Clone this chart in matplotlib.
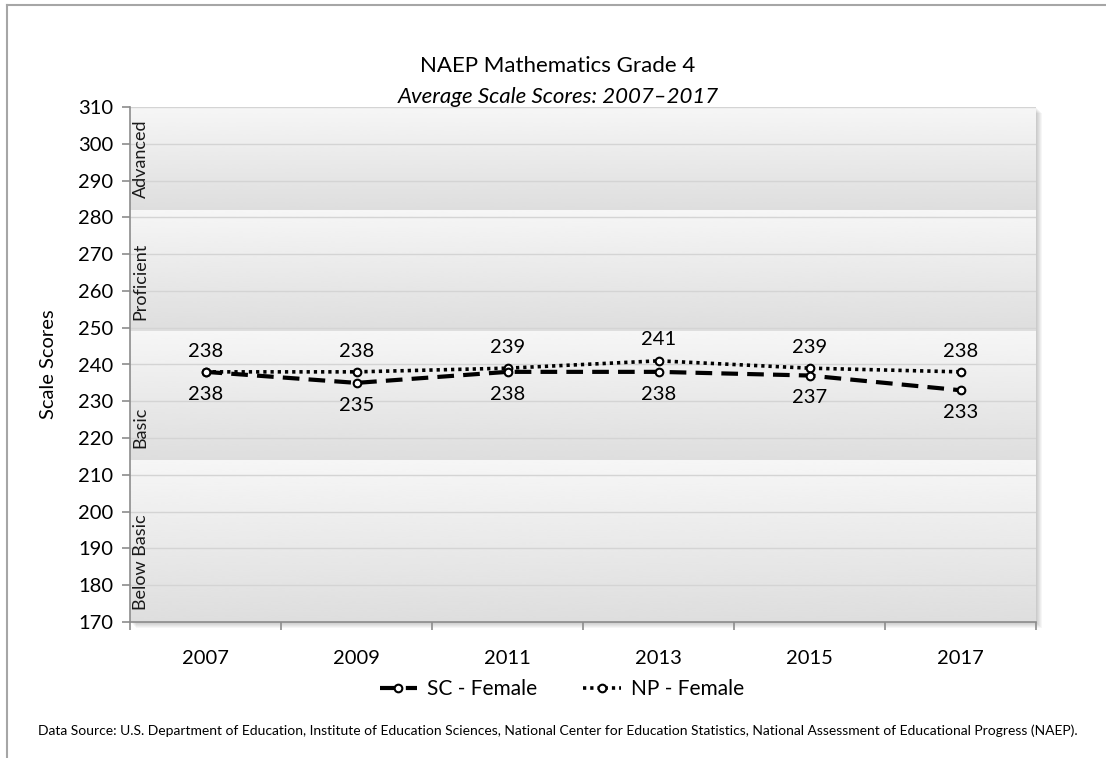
import matplotlib
matplotlib.use("Agg")
import matplotlib.pyplot as plt
from matplotlib.lines import Line2D
from matplotlib.patches import Rectangle
import numpy as np

# chart data
years = ["2007", "2009", "2011", "2013", "2015", "2017"]
sc_female = [238, 235, 238, 238, 237, 233]
np_female = [238, 238, 239, 241, 239, 238]

# achievement level bands (low, high, label)
band_names = ["Below Basic", "Basic", "Proficient", "Advanced"]
band_edges = [170, 214, 249, 282, 310]

plt.rcParams['font.family'] = ['Lato', 'DejaVu Sans']

W, H = 1106, 758
fig = plt.figure(figsize=(W/100, H/100), dpi=100)

# plot area in pixels
left_px, right_px, top_px, bot_px = 130, 1036, 107, 622
ax = fig.add_axes([left_px/W, 1 - bot_px/H, (right_px-left_px)/W, (bot_px-top_px)/H])

# drop shadow behind the plot area
for i in range(1, 7):
    fig.add_artist(Rectangle(((left_px + i)/W, 1 - (bot_px + i)/H),
                             (right_px-left_px)/W, (bot_px-top_px)/H,
                             transform=fig.transFigure, facecolor='black',
                             edgecolor='none', alpha=0.035, zorder=0))

x = np.arange(len(years))
ax.set_xlim(-0.5, len(years) - 0.5)
ax.set_ylim(band_edges[0], band_edges[-1])

# gradient bands
grad = np.linspace(0.87, 0.965, 256).reshape(-1, 1)
for lo, hi, name in zip(band_edges[:-1], band_edges[1:], band_names):
    ax.imshow(grad, cmap='gray', vmin=0, vmax=1, origin='lower', aspect='auto',
              extent=[-0.5, len(years) - 0.5, lo, hi], zorder=0, interpolation='bicubic')
    ax.text(-0.43, lo + 3.2, name, rotation=90, ha='center', va='bottom',
            fontsize=13, color='#1a1a1a', zorder=3)

ax.set_yticks(np.arange(170, 311, 10))
ax.yaxis.grid(True, color='#d4d4d4', lw=1)
ax.set_axisbelow(False)
for gl in ax.get_ygridlines():
    gl.set_zorder(1)

# lines
ax.plot(x, sc_female, color='black', lw=3, linestyle=(0, (4, 2.2)),
        marker='o', ms=5.5, mfc='white', mec='black', mew=1.5, zorder=5,
        label='SC - Female')
ax.plot(x, np_female, color='black', lw=2.6, linestyle=(0, (0.9, 1.1)),
        marker='o', ms=5.5, mfc='white', mec='black', mew=1.5, zorder=4,
        label='NP - Female')

for xi, v in zip(x, np_female):
    ax.annotate(str(v), (xi, v), xytext=(0, 15), textcoords='offset points',
                ha='center', va='center', fontsize=14.5, zorder=6)
for xi, v in zip(x, sc_female):
    ax.annotate(str(v), (xi, v), xytext=(0, -16), textcoords='offset points',
                ha='center', va='center', fontsize=14.5, zorder=6)

# axes styling
for side in ['top', 'right']:
    ax.spines[side].set_visible(False)
for side in ['left', 'bottom']:
    ax.spines[side].set_color('#8c8c8c')
    ax.spines[side].set_linewidth(1.2)
    ax.spines[side].set_zorder(7)

ax.set_xticks(x)
ax.set_xticklabels(years)
ax.set_xticks(np.arange(-0.5, len(years)), minor=True)
ax.tick_params(axis='x', which='major', length=0, pad=20, labelsize=14.5)
ax.tick_params(axis='x', which='minor', length=6, color='#8c8c8c', width=1.2)
ax.tick_params(axis='y', length=6, color='#8c8c8c', width=1.2, pad=6, labelsize=14.5)
ax.set_ylabel('Scale Scores', fontsize=14.5, labelpad=15)

# titles
fig.text(558/W, 1 - 66/H, 'NAEP Mathematics Grade 4', ha='center', va='center', fontsize=16)
fig.text(558/W, 1 - 97/H, 'Average Scale Scores: 2007\u20132017', ha='center', va='center',
         fontsize=16, style='italic')

# legend
leg = fig.legend(loc='center', bbox_to_anchor=(562/W, 1 - 689/H), ncol=2, frameon=False,
                 fontsize=15, handlelength=1.8, columnspacing=2.2, handletextpad=0.5)

fig.text(38/W, 1 - 731/H,
         'Data Source: U.S. Department of Education, Institute of Education Sciences, '
         'National Center for Education Statistics, National Assessment of Educational Progress (NAEP).',
         ha='left', va='center', fontsize=10)

# outer chart border (left and top)
fig.add_artist(Line2D([7/W, 7/W], [0, 1 - 5/H], transform=fig.transFigure, color='#a6a6a6', lw=1.5))
fig.add_artist(Line2D([7/W, 1], [1 - 5/H, 1 - 5/H], transform=fig.transFigure, color='#a6a6a6', lw=1.5))

fig.savefig('out.png', dpi=100)
